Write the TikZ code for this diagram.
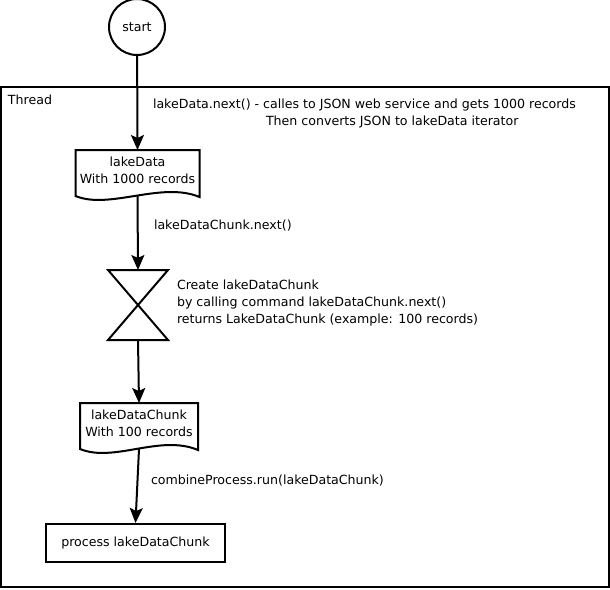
\documentclass[tikz,border=0pt]{standalone}
\usepackage{fontspec}
\setmainfont{DejaVu Sans}
\usetikzlibrary{calc,arrows.meta,positioning}

\begin{document}
\begin{tikzpicture}[x=1pt,y=-1pt,line width=2pt,>={Stealth[length=15pt,width=13pt,inset=3pt]},
		every node/.style={font=\fontsize{12.6}{17}\selectfont},
		docbox/.style={minimum width=#1,minimum height=38pt,inner sep=0pt,align=center},
		txt/.style={anchor=west,inner sep=0pt,align=left}]

			\useasboundingbox (0,0) rectangle (610,589);

			% frame of the thread
			\draw (1,87) rectangle (609,587);
			\node [txt] (thread) at (7,100) {Thread};

			\node [draw,circle,minimum size=56pt,inner sep=0pt] (start) at (137,27) {start};
			\node [docbox=122pt] (data) at (137.5,170) {lakeData\\With 1000 records};
			\node [minimum width=58pt,minimum height=68pt,inner sep=0pt] (glass) at (138,305) {};
			\node [docbox=116pt] (chunk) at (139,423) {lakeDataChunk\\With 100 records};
			\node [draw,minimum width=179pt,minimum height=38pt,inner sep=0pt] (proc) at (135.5,543) {process lakeDataChunk};

			% document shapes with a wavy bottom
			\foreach \d in {data,chunk} {
					\draw (\d.north west) -- (\d.north east) -- ($(\d.south east)+(0,7)$)
						.. controls +(-38,-16) and +(34,14) .. ($(\d.south west)+(0,6)$) -- cycle;
				}
			\draw (glass.north west) -- (glass.north east) -- (glass.south west) -- (glass.south east) -- cycle;

			\draw [->] (start) -- (data.north);
			\draw [->] ($(data.south)+(0,6)$) -- (glass.north);
			\draw [->] (glass.south) -- (chunk.north);
			\draw [->] ($(chunk.south)+(0,6)$) -- (proc.north);

			\node [txt] (next) at (152,105) {lakeData.next() - calles to JSON web service and gets 1000 records};
			\node [txt] (conv) at (265,122) {Then converts JSON to lakeData iterator};
			\node [txt] (chunknext) at (153,226) {lakeDataChunk.next()};
			\node [txt] (create) at (176,303) {Create lakeDataChunk\\by calling command lakeDataChunk.next()\\returns LakeDataChunk (example: 100 records)};
			\node [txt] (run) at (150,481) {combineProcess.run(lakeDataChunk)};
		\end{tikzpicture}
\end{document}
